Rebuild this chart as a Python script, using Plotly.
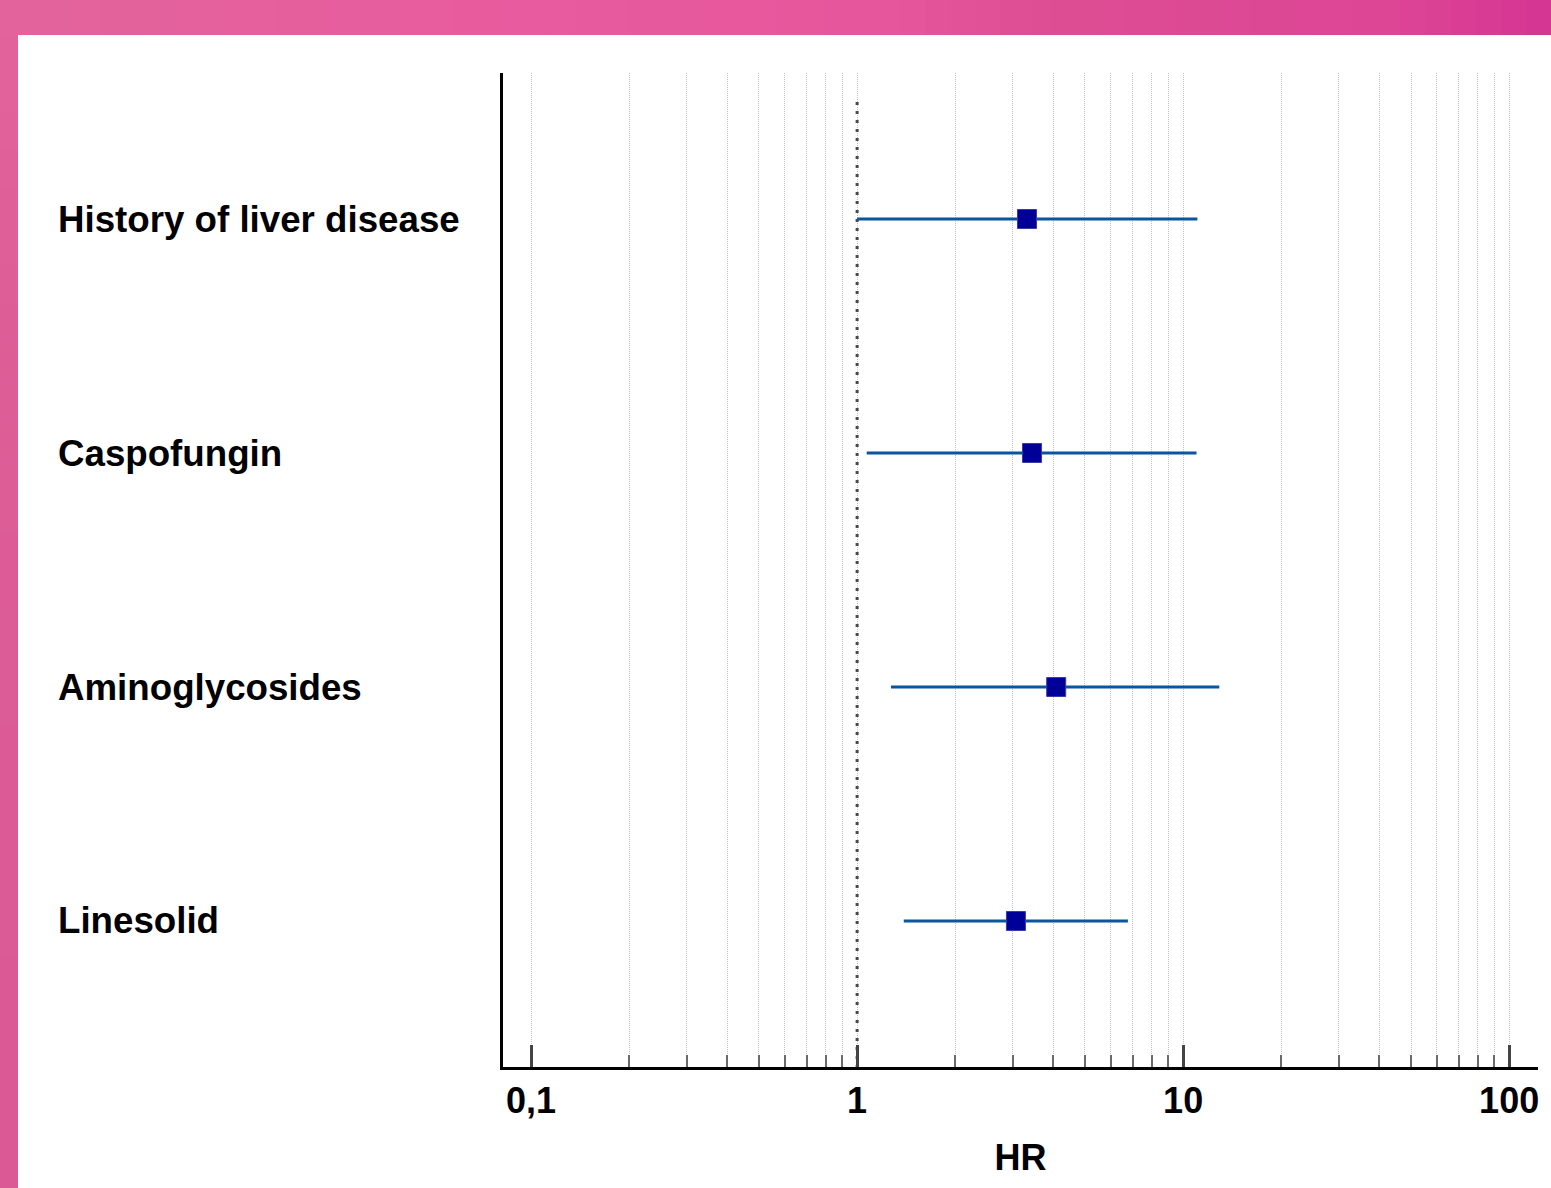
import plotly.graph_objects as go
import numpy as np

# ---- data ----
factors = ["History of liver disease", "Caspofungin", "Aminoglycosides", "Linesolid"]
hr = [3.32, 3.44, 4.08, 3.07]
ci_low = [1.00, 1.07, 1.27, 1.39]
ci_high = [11.06, 10.99, 12.91, 6.77]
major_ticks = [0.1, 1, 10, 100]
major_labels = ["0,1", "1", "10", "100"]
minor_ticks = [0.2, 0.3, 0.4, 0.5, 0.6, 0.7, 0.8, 0.9,
               2, 3, 4, 5, 6, 7, 8, 9,
               20, 30, 40, 50, 60, 70, 80, 90]
x_title = "HR"

# ---- layout geometry ----
W, H = 1551, 1188
L, R, T, B = 503, 1538, 73, 1067
pw, ph = R - L, B - T
def px2paper_x(px): return (px - L) / pw
def px2paper_y(py): return (B - py) / ph

ypos = list(range(len(factors), 0, -1))  # 4,3,2,1
y_lo, y_hi = 0.376, 4.624

FONT = "Arial, Liberation Sans, sans-serif"

fig = go.Figure()

# reference dotted line at HR = 1
fig.add_trace(go.Scatter(
    x=[1, 1], y=[4.5, y_lo], mode="lines",
    line=dict(color="#4a4a4a", width=3, dash="3px,6px"),
    hoverinfo="skip", showlegend=False))

# point estimates with CI
fig.add_trace(go.Scatter(
    x=hr, y=ypos, mode="markers",
    marker=dict(symbol="square", size=19, color="#000099",
                line=dict(color="#3a3aa8", width=1)),
    error_x=dict(type="data", symmetric=False,
                 array=[h - p for h, p in zip(ci_high, hr)],
                 arrayminus=[p - l for p, l in zip(hr, ci_low)],
                 color="#0b559f", thickness=3, width=0),
    showlegend=False))

fig.update_xaxes(
    type="log",
    range=[np.log10(0.082), np.log10(122.6)],
    tickmode="array", tickvals=major_ticks, ticktext=major_labels,
    tickfont=dict(family=FONT, size=36, color="black", weight="bold"),
    ticks="inside", ticklen=22, tickwidth=3, tickcolor="#444444",
    showgrid=True, gridcolor="#c0c0c0", griddash="1px,1px", gridwidth=1,
    minor=dict(tickmode="array", tickvals=minor_ticks,
               ticks="inside", ticklen=12, tickwidth=2, tickcolor="#6a6a6a",
               showgrid=True, gridcolor="#c0c0c0", griddash="1px,1px", gridwidth=1),
    showline=True, linecolor="black", linewidth=3,
    zeroline=False,
    title=dict(text=x_title, font=dict(family=FONT, size=36, color="black", weight="bold"),
               standoff=25),
    automargin=False,
)
fig.update_yaxes(
    range=[y_lo, y_hi], showticklabels=False, ticks="",
    showgrid=False, zeroline=False,
    showline=True, linecolor="black", linewidth=3,
    automargin=False,
)

# row labels
for name, y in zip(factors, ypos):
    fig.add_annotation(
        x=px2paper_x(56), xref="paper", y=y, yref="y",
        text=name, showarrow=False, xanchor="left", yanchor="middle",
        font=dict(family=FONT, size=36.7, color="black", weight="bold"))

# decorative pink frame (gradient approximated by strips)
stops_x = [0, 500, 900, 1050, 1380, 1551]
stops_c = [(227, 101, 156), (233, 92, 159), (230, 86, 156), (221, 78, 148), (222, 70, 150), (213, 53, 147)]
n = 62
edges = np.linspace(0, W, n + 1)
shapes = []
for i in range(n):
    xm = (edges[i] + edges[i + 1]) / 2
    c = [int(np.interp(xm, stops_x, [s[k] for s in stops_c])) for k in range(3)]
    shapes.append(dict(type="rect", xref="paper", yref="paper",
                       x0=px2paper_x(edges[i]), x1=px2paper_x(edges[i + 1] + 1),
                       y0=px2paper_y(35), y1=px2paper_y(0),
                       fillcolor=f"rgb({c[0]},{c[1]},{c[2]})", line=dict(width=0), layer="above"))
# left band
stops_y = [0, 300, 1188]
stops_cl = [(228, 100, 157), (222, 94, 152), (219, 90, 150)]
m = 30
yedges = np.linspace(35, H, m + 1)
for i in range(m):
    ym = (yedges[i] + yedges[i + 1]) / 2
    c = [int(np.interp(ym, stops_y, [s[k] for s in stops_cl])) for k in range(3)]
    shapes.append(dict(type="rect", xref="paper", yref="paper",
                       x0=px2paper_x(0), x1=px2paper_x(18),
                       y0=px2paper_y(yedges[i + 1] + 1), y1=px2paper_y(yedges[i]),
                       fillcolor=f"rgb({c[0]},{c[1]},{c[2]})", line=dict(width=0), layer="above"))
fig.update_layout(shapes=shapes)

fig.update_layout(
    width=W, height=H,
    margin=dict(l=L, r=W - R, t=T, b=H - B, pad=0),
    paper_bgcolor="white", plot_bgcolor="white",
    showlegend=False,
)

fig.write_html("out.html", config={"displayModeBar": False},
               post_script="document.body.style.margin='0';document.body.style.overflow='hidden';")
